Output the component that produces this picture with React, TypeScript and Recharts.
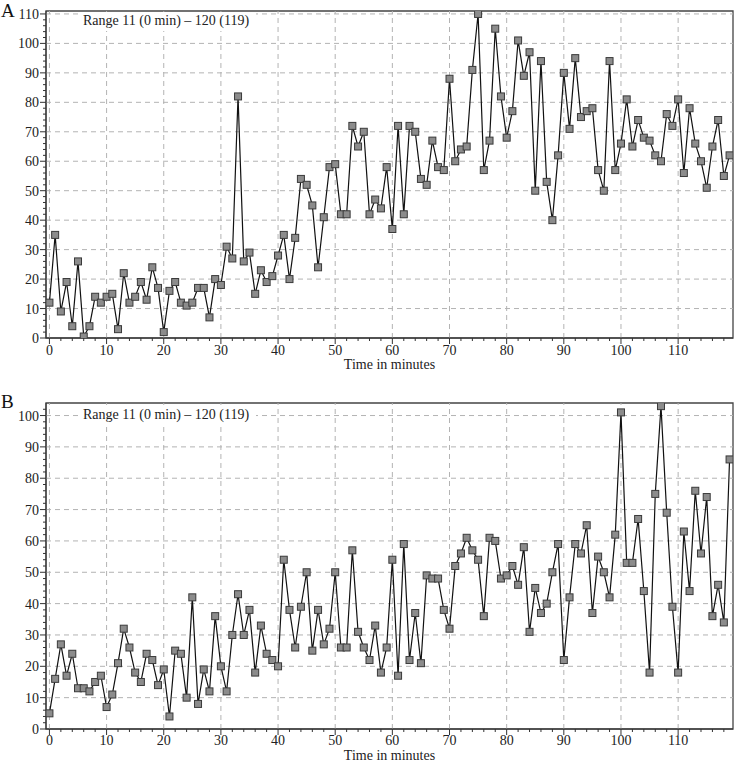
import React from 'react';
import { LineChart, Line, XAxis, YAxis, ReferenceLine, ReferenceArea } from 'recharts';

// Time in minutes (x categories)
const minutes = [
  0, 1, 2, 3, 4, 5, 6, 7, 8, 9,
  10, 11, 12, 13, 14, 15, 16, 17, 18, 19,
  20, 21, 22, 23, 24, 25, 26, 27, 28, 29,
  30, 31, 32, 33, 34, 35, 36, 37, 38, 39,
  40, 41, 42, 43, 44, 45, 46, 47, 48, 49,
  50, 51, 52, 53, 54, 55, 56, 57, 58, 59,
  60, 61, 62, 63, 64, 65, 66, 67, 68, 69,
  70, 71, 72, 73, 74, 75, 76, 77, 78, 79,
  80, 81, 82, 83, 84, 85, 86, 87, 88, 89,
  90, 91, 92, 93, 94, 95, 96, 97, 98, 99,
  100, 101, 102, 103, 104, 105, 106, 107, 108, 109,
  110, 111, 112, 113, 114, 115, 116, 117, 118, 119,
];

// Panel A values
const seriesA = [
  12, 35, 9, 19, 4, 26, 0.5, 4, 14, 12,
  14, 15, 3, 22, 12, 14, 19, 13, 24, 17,
  2, 16, 19, 12, 11, 12, 17, 17, 7, 20,
  18, 31, 27, 82, 26, 29, 15, 23, 19, 21,
  28, 35, 20, 34, 54, 52, 45, 24, 41, 58,
  59, 42, 42, 72, 65, 70, 42, 47, 44, 58,
  37, 72, 42, 72, 70, 54, 52, 67, 58, 57,
  88, 60, 64, 65, 91, 110, 57, 67, 105, 82,
  68, 77, 101, 89, 97, 50, 94, 53, 40, 62,
  90, 71, 95, 75, 77, 78, 57, 50, 94, 57,
  66, 81, 65, 74, 68, 67, 62, 60, 76, 72,
  81, 56, 78, 66, 60, 51, 65, 74, 55, 62,
];

// Panel B values
const seriesB = [
  5, 16, 27, 17, 24, 13, 13, 12, 15, 17,
  7, 11, 21, 32, 26, 18, 15, 24, 22, 14,
  19, 4, 25, 24, 10, 42, 8, 19, 12, 36,
  20, 12, 30, 43, 30, 38, 18, 33, 24, 22,
  20, 54, 38, 26, 39, 50, 25, 38, 27, 32,
  50, 26, 26, 57, 31, 26, 22, 33, 18, 26,
  54, 17, 59, 22, 37, 21, 49, 48, 48, 38,
  32, 52, 56, 61, 57, 54, 36, 61, 60, 48,
  49, 52, 46, 58, 31, 45, 37, 40, 50, 59,
  22, 42, 59, 56, 65, 37, 55, 50, 42, 62,
  101, 53, 53, 67, 44, 18, 75, 103, 69, 39,
  18, 63, 44, 76, 56, 74, 36, 46, 34, 86,
];

const xMajorTicks = [0, 10, 20, 30, 40, 50, 60, 70, 80, 90, 100, 110];
const yMajorTicksA = [0, 10, 20, 30, 40, 50, 60, 70, 80, 90, 100, 110];
const yMajorTicksB = [0, 10, 20, 30, 40, 50, 60, 70, 80, 90, 100];
const annotation = 'Range 11 (0 min) \u2013 120 (119)';
const xTitle = 'Time in minutes';

const FONT = '"Liberation Serif", "Times New Roman", serif';
const X_DOMAIN: [number, number] = [-0.6, 119.6];

const evenSteps = (max: number) => {
  const out: number[] = [];
  for (let v = 0; v <= max; v += 2) out.push(v);
  return out;
};

const makeXTick = (labelDy: number) => (props: any) => {
  const { x, y, payload } = props;
  const v = payload.value;
  const major = v % 10 === 0;
  return (
    <g>
      <line x1={x} x2={x} y1={y} y2={y + (major ? 6 : 3)} stroke="#333" strokeWidth={1} />
      {major && (
        <text x={x} y={y + labelDy} textAnchor="middle" fontSize={14} fontFamily={FONT} fill="#222">
          {v}
        </text>
      )}
    </g>
  );
};

const YTick = (props: any) => {
  const { x, y, payload } = props;
  const v = payload.value;
  const major = v % 10 === 0;
  return (
    <g>
      <line x1={x} x2={x - (major ? 6 : 3)} y1={y} y2={y} stroke="#333" strokeWidth={1} />
      {major && (
        <text x={x - 7} y={y + 5} textAnchor="end" fontSize={14} fontFamily={FONT} fill="#222">
          {v}
        </text>
      )}
    </g>
  );
};

const SquareDot = (props: any) => {
  const { cx, cy, index } = props;
  if (cx == null || cy == null) return <g key={index} />;
  return (
    <rect
      key={index}
      x={cx - 3.5}
      y={cy - 3.5}
      width={7}
      height={7}
      fill="#8c8c8c"
      stroke="#3a3a3a"
      strokeWidth={1}
    />
  );
};

type PanelProps = {
  values: number[];
  yMax: number;
  yMajor: number[];
  height: number;
  marginTop: number;
  marginBottom: number;
  xAxisHeight: number;
  labelOffset: number;
  tickDy: number;
};

function Panel({ values, yMax, yMajor, height, marginTop, marginBottom, xAxisHeight, labelOffset, tickDy }: PanelProps) {
  const data = minutes.map((m, i) => ({ minute: m, value: values[i] }));
  const xTicks = evenSteps(118);
  const yTicks = evenSteps(yMax - 1);
  const XTick = makeXTick(tickDy);
  return (
    <LineChart
      width={734}
      height={height}
      data={data}
      margin={{ top: marginTop, right: 1, bottom: marginBottom, left: 0 }}
    >
      <XAxis
        dataKey="minute"
        type="number"
        domain={X_DOMAIN}
        allowDataOverflow
        ticks={xTicks}
        interval={0}
        tickSize={0}
        tickMargin={0}
        tickLine={false}
        tick={(p: any) => <XTick {...p} />}
        axisLine={{ stroke: '#333', strokeWidth: 1 }}
        height={xAxisHeight}
        label={{
          value: xTitle,
          position: 'insideBottom',
          offset: labelOffset,
          fontSize: 14,
          fontFamily: FONT,
          fill: '#222',
        }}
      />
      <YAxis
        type="number"
        domain={[0, yMax]}
        allowDataOverflow
        ticks={yTicks}
        interval={0}
        width={46}
        tickSize={0}
        tickMargin={0}
        tickLine={false}
        tick={(p: any) => <YTick {...p} />}
        axisLine={{ stroke: '#333', strokeWidth: 1 }}
      />
      {xMajorTicks.map((t) => (
        <ReferenceLine key={'vx' + t} x={t} stroke="#b3b3b3" strokeDasharray="5 4" strokeWidth={1} />
      ))}
      {yMajor
        .filter((t) => t > 0)
        .map((t) => (
          <ReferenceLine key={'hy' + t} y={t} stroke="#b3b3b3" strokeDasharray="5 4" strokeWidth={1} />
        ))}
      <ReferenceArea
        x1={X_DOMAIN[0]}
        x2={X_DOMAIN[1]}
        y1={0}
        y2={yMax}
        fill="none"
        fillOpacity={0}
        stroke="#444"
        strokeWidth={1.3}
      />
      <Line
        type="linear"
        dataKey="value"
        stroke="#111"
        strokeWidth={1.2}
        dot={(p: any) => <SquareDot key={p.index} {...p} />}
        activeDot={false}
        isAnimationActive={false}
      />
    </LineChart>
  );
}

const panelLetter: React.CSSProperties = {
  position: 'absolute',
  left: 1,
  fontFamily: FONT,
  fontSize: 19,
  lineHeight: '19px',
  color: '#111',
};

const noteBox: React.CSSProperties = {
  position: 'absolute',
  left: 78,
  width: 178,
  height: 19,
  background: '#fff',
  fontFamily: FONT,
  fontSize: 14,
  lineHeight: '17px',
  color: '#222',
  paddingLeft: 5,
  boxSizing: 'border-box',
  whiteSpace: 'nowrap',
};

export default function App() {
  return (
    <div style={{ position: 'absolute', left: 0, top: 0, width: 734, height: 761, background: '#fff' }}>
      <div style={{ position: 'absolute', left: 0, top: 0 }}>
        <Panel
          values={seriesA}
          yMax={111}
          yMajor={yMajorTicksA}
          height={380}
          marginTop={11}
          marginBottom={6}
          xAxisHeight={36}
          labelOffset={5}
          tickDy={17}
        />
      </div>
      <div style={{ position: 'absolute', left: 0, top: 380 }}>
        <Panel
          values={seriesB}
          yMax={104}
          yMajor={yMajorTicksB}
          height={381}
          marginTop={23}
          marginBottom={0}
          xAxisHeight={32}
          labelOffset={1.5}
          tickDy={16}
        />
      </div>
      <div style={{ ...panelLetter, top: 1 }}>A</div>
      <div style={{ ...panelLetter, top: 392 }}>B</div>
      <div style={{ ...noteBox, top: 12 }}>{annotation}</div>
      <div style={{ ...noteBox, top: 406 }}>{annotation}</div>
    </div>
  );
}
